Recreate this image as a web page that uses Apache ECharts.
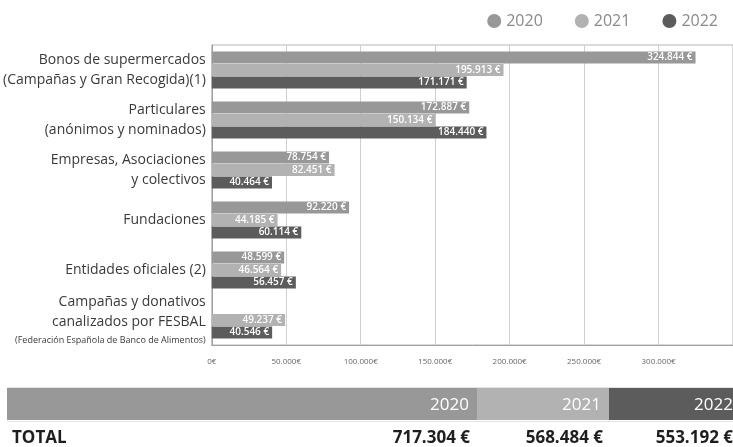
<!DOCTYPE html>
<html>
<head>
<meta charset="utf-8">
<script src="https://cdn.jsdelivr.net/npm/echarts@6/dist/echarts.min.js"></script>
<style>
html,body{margin:0;padding:0;background:#fff;}
#chart{width:733px;height:447px;}
</style>
</head>
<body>
<div id="chart"></div>
<script>
var categories = [
  "Bonos de supermercados\n(Campañas y Gran Recogida)(1)",
  "Particulares\n(anónimos y nominados)",
  "Empresas, Asociaciones\ny colectivos",
  "Fundaciones",
  "Entidades oficiales (2)",
  "Campañas y donativos\ncanalizados por FESBAL\n{s|(Federación Española de Banco de Alimentos)}"
];
var years = ["2020", "2021", "2022"];
var values2020 = [324844, 172887, 78754, 92220, 48599, null];
var values2021 = [195913, 150134, 82451, 44185, 46564, 49237];
var values2022 = [171171, 184440, 40464, 60114, 56457, 40546];
var totals = [717304, 568484, 553192];
var xTicks = [0, 50000, 100000, 150000, 200000, 250000, 300000];

var colors = ["#989898", "#b2b2b2", "#5c5c5c"];
var FONT = "'Open Sans', 'Noto Sans', sans-serif";

function fmt(v) {
  return String(Math.round(v)).replace(/\B(?=(\d{3})+(?!\d))/g, ".");
}

var chart = echarts.init(document.getElementById("chart"), null, {renderer: "canvas"});

function barSeries(name, data, color) {
  return {
    name: name,
    type: "bar",
    data: data,
    barWidth: 12,
    barGap: "4%",
    itemStyle: {color: color},
    label: {
      show: true,
      position: "insideRight",
      distance: 3,
      color: "#ffffff",
      fontFamily: FONT,
      fontSize: 10,
      fontWeight: 600,
      formatter: function (p) { return p.value == null ? "" : fmt(p.value) + " €"; }
    },
    emphasis: {disabled: true}
  };
}

// bottom totals band (layout graphic, text from data arrays)
var bandX = [7, 477, 609];
var bandW = [470, 132, 126];
var bandRight = [469, 601, 733];
var totRight = [470, 603, 733];
var graphics = [];
years.forEach(function (y, i) {
  graphics.push({
    type: "rect", left: bandX[i], top: 388,
    shape: {width: bandW[i], height: 32},
    style: {fill: colors[i]}, silent: true
  });
});
graphics.push({type: "line", shape: {x1: 7, y1: 387.5, x2: 733, y2: 387.5}, style: {stroke: "#e3e3e3", lineWidth: 1}, silent: true});
graphics.push({type: "line", shape: {x1: 7, y1: 421.5, x2: 733, y2: 421.5}, style: {stroke: "#e3e3e3", lineWidth: 1}, silent: true});
years.forEach(function (y, i) {
  graphics.push({
    type: "text", x: bandRight[i], y: 405, silent: true,
    style: {text: y, fill: "#ffffff", font: "17px " + FONT, textAlign: "right", textVerticalAlign: "middle"}
  });
  graphics.push({
    type: "text", x: totRight[i], y: 438, silent: true,
    style: {text: fmt(totals[i]) + " €", fill: "#1e1e1e", font: "bold 17px " + FONT, textAlign: "right", textVerticalAlign: "middle"}
  });
});
graphics.push({
  type: "text", x: 12, y: 438, silent: true,
  style: {text: "TOTAL", fill: "#1e1e1e", font: "bold 17px " + FONT, textAlign: "left", textVerticalAlign: "middle"}
});

chart.setOption({
  animation: false,
  color: colors,
  textStyle: {fontFamily: FONT},
  legend: {
    data: years,
    right: 10,
    top: 8,
    icon: "circle",
    itemWidth: 14,
    itemHeight: 14,
    itemGap: 32,
    textStyle: {fontSize: 16, color: "#8a8a8a", fontFamily: FONT}
  },
  grid: {
    left: 209,
    right: -2,
    top: 45,
    height: 300,
    show: true,
    borderColor: "#b5b5b5",
    borderWidth: 1
  },
  xAxis: {
    type: "value",
    min: 0,
    max: 350000,
    interval: 50000,
    axisLine: {show: true, lineStyle: {color: "#a0a0a0"}},
    axisTick: {show: false},
    splitLine: {show: true, lineStyle: {color: "#cfcfcf"}},
    axisLabel: {
      margin: 13,
      fontSize: 8,
      color: "#666",
      fontFamily: FONT,
      showMaxLabel: false,
      formatter: function (v) { return xTicks.indexOf(v) >= 0 ? fmt(v) + "€" : ""; }
    }
  },
  yAxis: {
    type: "category",
    data: categories,
    inverse: true,
    axisLine: {show: true, lineStyle: {color: "#a0a0a0"}},
    axisTick: {show: false},
    axisLabel: {
      margin: 6,
      fontSize: 14,
      lineHeight: 20,
      color: "#3a3a3a",
      fontFamily: FONT,
      align: "right",
      rich: {
        s: {fontSize: 9, lineHeight: 16, color: "#3a3a3a", fontFamily: FONT}
      }
    }
  },
  series: [
    barSeries(years[0], values2020, colors[0]),
    barSeries(years[1], values2021, colors[1]),
    barSeries(years[2], values2022, colors[2])
  ],
  graphic: graphics
});
</script>
</body>
</html>
